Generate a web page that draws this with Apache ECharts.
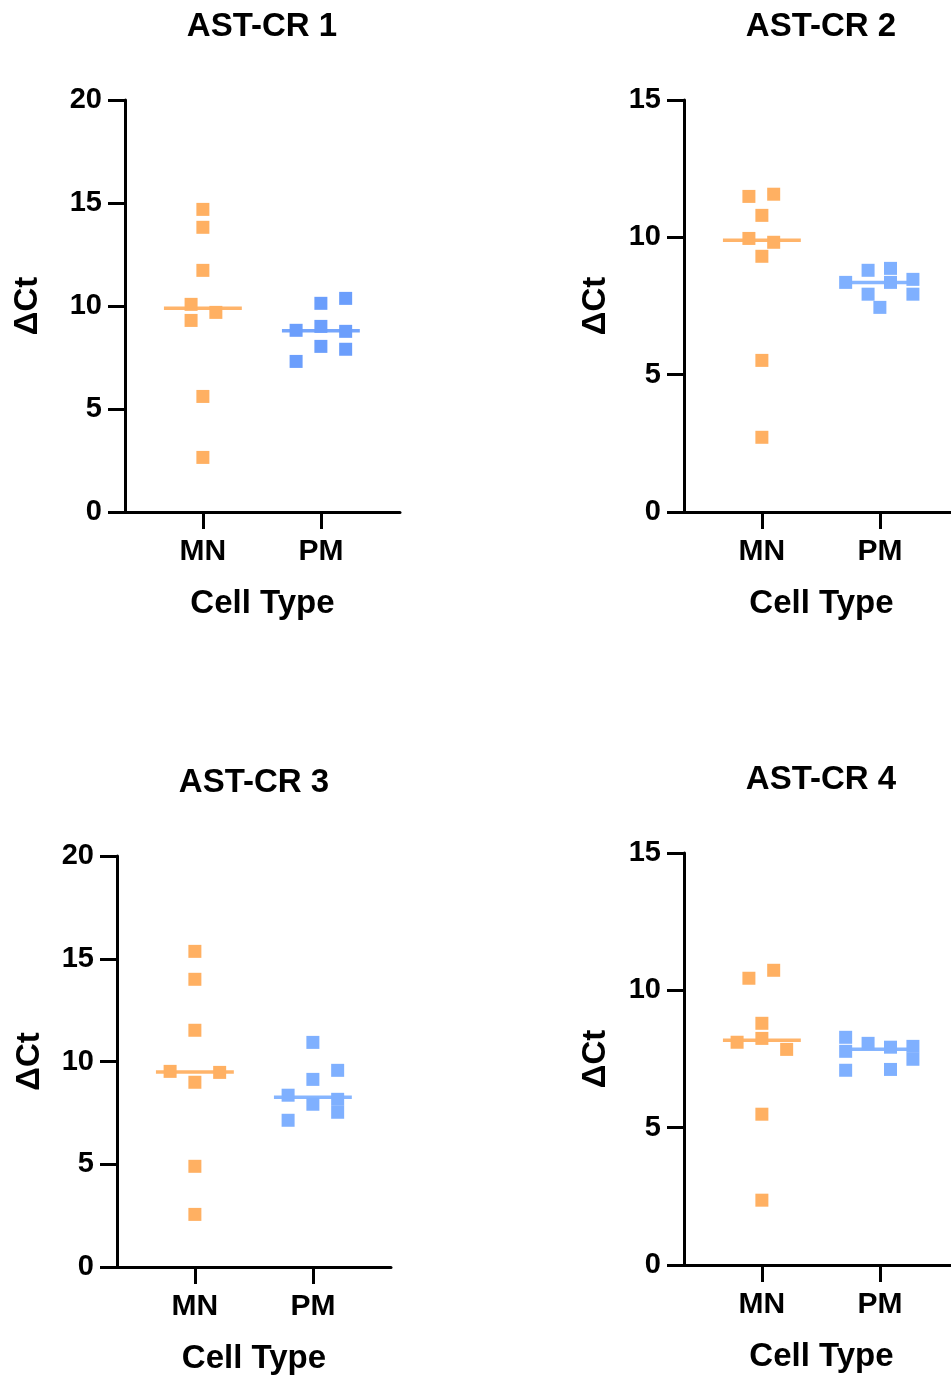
<!DOCTYPE html>
<html>
<head>
<meta charset="utf-8">
<title>AST-CR ΔCt</title>
<script src="https://cdn.jsdelivr.net/npm/echarts@6/dist/echarts.min.js"></script>
<style>
  html, body { margin: 0; padding: 0; background: #fff; }
  #main { width: 951px; height: 1378px; }
</style>
</head>
<body>
<div id="main"></div>
<script>
var categories = ['MN', 'PM'];
var panelTitles = ['AST-CR 1', 'AST-CR 2', 'AST-CR 3', 'AST-CR 4'];
var yMax = [20, 15, 20, 15];
var yTicks = 5;

// ΔCt values, with the horizontal jitter of each point
var cr1MN = [14.69, 13.82, 11.73, 10.08, 9.30, 9.69, 5.61, 2.65];
var cr1MNx = [0, 0, 0, -0.1, -0.1, 0.11, 0, 0];
var cr1PM = [8.82, 7.31, 10.13, 9.01, 8.04, 10.37, 8.77, 7.90];
var cr1PMx = [-0.21, -0.21, 0, 0, 0, 0.21, 0.21, 0.21];

var cr2MN = [11.49, 11.57, 10.80, 9.96, 9.82, 9.31, 5.52, 2.72];
var cr2MNx = [-0.11, 0.1, 0, -0.11, 0.1, 0, 0, 0];
var cr2PM = [8.36, 8.80, 7.93, 7.45, 8.87, 8.36, 8.47, 7.93];
var cr2PMx = [-0.29, -0.1, -0.1, 0, 0.09, 0.09, 0.28, 0.28];

var cr3MN = [15.36, 14.00, 11.52, 9.52, 9.47, 8.99, 4.90, 2.56];
var cr3MNx = [0, 0, 0, -0.21, 0.21, 0, 0, 0];
var cr3PM = [8.36, 7.14, 10.93, 9.13, 7.92, 9.57, 8.16, 7.53];
var cr3PMx = [-0.21, -0.21, 0, 0, 0, 0.21, 0.21, 0.21];

var cr4MN = [10.44, 10.73, 8.80, 8.11, 8.25, 7.85, 5.49, 2.36];
var cr4MNx = [-0.11, 0.1, 0, -0.21, 0, 0.21, 0, 0];
var cr4PM = [8.29, 7.78, 7.09, 8.07, 7.93, 7.12, 7.96, 7.49];
var cr4PMx = [-0.29, -0.29, -0.29, -0.1, 0.09, 0.09, 0.28, 0.28];

var panels = [
    [[cr1MN, cr1MNx], [cr1PM, cr1PMx]],
    [[cr2MN, cr2MNx], [cr2PM, cr2PMx]],
    [[cr3MN, cr3MNx], [cr3PM, cr3PMx]],
    [[cr4MN, cr4MNx], [cr4PM, cr4PMx]]
];

var FONT = '"Liberation Sans", Arial, Helvetica, sans-serif';
var orange = '#FFB062';
var blues = ['#6B9EFC', '#7FB0FF', '#7FB0FF', '#7FB0FF'];
var lineOrange = '#FFB46A';
var lineBlues = ['#76A6FC', '#86B5FF', '#86B5FF', '#86B5FF'];

// grid boxes: left, top, width, height (right panels are cut off by the page edge)
var boxes = [
    [125, 100, 275, 412],
    [684, 100, 267, 412],
    [117, 856, 274, 411],
    [684, 853, 267, 412]
];
var nameGaps = [81, 72, 71, 72];
var namePads = [0, 8, 0, 8];

function median(arr) {
    var s = arr.slice().sort(function (a, b) { return a - b; });
    var m = Math.floor(s.length / 2);
    return s.length % 2 ? s[m] : (s[m - 1] + s[m]) / 2;
}

var myChart = echarts.init(document.getElementById('main'));

var grids = [], xAxes = [], yAxes = [], series = [], titles = [];
var axisLine = { show: true, onZero: false, lineStyle: { color: '#000', width: 3 } };
var axisTick = { show: true, inside: false, length: 17, lineStyle: { color: '#000', width: 3 } };

panels.forEach(function (p, i) {
    var b = boxes[i];
    grids.push({ left: b[0], top: b[1], width: b[2], height: b[3] });
    titles.push({
        text: panelTitles[i],
        left: b[0] + 137,
        top: b[1] - 90,
        textAlign: 'center',
        padding: 0,
        textStyle: { fontFamily: FONT, fontWeight: 'bold', fontSize: 33, color: '#000' }
    });
    xAxes.push({
        type: 'value',
        gridIndex: i,
        min: -0.66,
        max: -0.66 + b[2] / 118,
        name: 'Cell Type',
        nameLocation: 'middle',
        nameGap: 75,
        nameTextStyle: {
            fontFamily: FONT, fontWeight: 'bold', fontSize: 33, color: '#000',
            padding: [0, 0, 0, namePads[i]]
        },
        splitLine: { show: false },
        axisLine: axisLine,
        axisTick: { show: true, inside: false, length: 17, lineStyle: { color: '#000', width: 3 }, customValues: [0, 1] },
        axisLabel: {
            customValues: [0, 1],
            formatter: function (v) { return categories[Math.round(v)]; },
            margin: 25,
            fontFamily: FONT, fontWeight: 'bold', fontSize: 30, color: '#000'
        }
    });
    yAxes.push({
        type: 'value',
        gridIndex: i,
        min: 0,
        max: yMax[i],
        interval: yTicks,
        name: 'ΔCt',
        nameLocation: 'middle',
        nameGap: nameGaps[i],
        nameRotate: 90,
        nameTextStyle: { fontFamily: FONT, fontWeight: 'bold', fontSize: 33, color: '#000' },
        splitLine: { show: false },
        axisLine: axisLine,
        axisTick: axisTick,
        axisLabel: { margin: 23, fontFamily: FONT, fontWeight: 'bold', fontSize: 29, color: '#000', padding: [5, 0, 0, 0] }
    });

    p.forEach(function (grp, g) {
        var vals = grp[0], jit = grp[1];
        var med = median(vals);
        series.push({
            type: 'line',
            xAxisIndex: i,
            yAxisIndex: i,
            data: [[g - 0.33, med], [g + 0.33, med]],
            symbol: 'none',
            silent: true,
            z: 1,
            lineStyle: { color: g === 0 ? lineOrange : lineBlues[i], width: 3.5 }
        });
        series.push({
            type: 'scatter',
            xAxisIndex: i,
            yAxisIndex: i,
            data: vals.map(function (v, k) { return [g + jit[k], v]; }),
            symbol: 'rect',
            symbolSize: 13,
            z: 2,
            itemStyle: { color: g === 0 ? orange : blues[i], opacity: 1 }
        });
    });
});

var option = {
    backgroundColor: '#fff',
    animation: false,
    title: titles,
    grid: grids,
    xAxis: xAxes,
    yAxis: yAxes,
    series: series
};
myChart.setOption(option);
</script>
</body>
</html>
